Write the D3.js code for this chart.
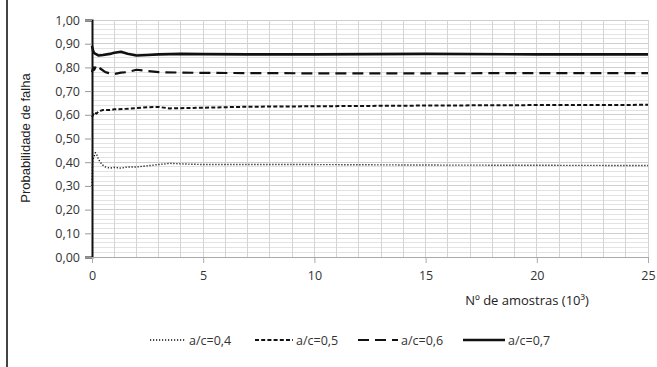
<!DOCTYPE html>
<html><head><meta charset="utf-8">
<script src="https://cdn.jsdelivr.net/npm/d3@7"></script>
<style>body{margin:0;background:#fff}svg{display:block}</style>
</head><body>
<svg id="c" width="657" height="367"></svg>
<script>
const seriesNames = ["a/c=0,4","a/c=0,5","a/c=0,6","a/c=0,7"];
const xs04 = [0,0.03,0.08,0.15,0.22,0.3,0.45,0.6,0.8,1,1.3,1.6,2,2.5,3,3.5,4,5,7,10,15,20,25];
const ys04 = [0.30,0.41,0.42,0.44,0.43,0.41,0.39,0.38,0.375,0.378,0.375,0.38,0.38,0.385,0.39,0.395,0.393,0.39,0.39,0.39,0.388,0.387,0.386];
const xs05 = [0,0.05,0.1,0.2,0.3,0.5,0.8,1,1.5,2,2.5,3,3.5,4,5,7,10,15,20,25];
const ys05 = [0.59,0.60,0.61,0.605,0.615,0.62,0.62,0.623,0.625,0.628,0.632,0.633,0.627,0.628,0.63,0.634,0.636,0.639,0.641,0.642];
const xs06 = [0,0.05,0.1,0.2,0.3,0.45,0.6,0.8,1,1.3,1.6,2,2.5,3,4,5,7,10,15,20,25];
const ys06 = [0.78,0.80,0.79,0.81,0.80,0.79,0.78,0.775,0.772,0.778,0.78,0.79,0.785,0.78,0.778,0.777,0.776,0.775,0.775,0.776,0.776];
const xs07 = [0,0.05,0.1,0.2,0.3,0.5,0.8,1,1.3,1.6,2,2.5,3,4,5,7,10,15,20,25];
const ys07 = [0.89,0.87,0.86,0.855,0.85,0.852,0.857,0.862,0.866,0.858,0.85,0.852,0.855,0.857,0.856,0.855,0.855,0.857,0.855,0.855];
const yTicks = [0,0.1,0.2,0.3,0.4,0.5,0.6,0.7,0.8,0.9,1.0];
const xTicks = [0,5,10,15,20,25];
const yTitle = "Probabilidade de falha";
const xTitle = "Nº de amostras (10³)";

const styles = [
  {w:1.4, dash:"1.2,1.8"},
  {w:2, dash:"4,2.2"},
  {w:2.2, dash:"11,6"},
  {w:2.6, dash:null}
];
const data = [[xs04,ys04],[xs05,ys05],[xs06,ys06],[xs07,ys07]];

const svg = d3.select("#c");
svg.append("line").attr("x1",7).attr("x2",7).attr("y1",0).attr("y2",367).attr("stroke","#444").attr("stroke-width",2);

const x = d3.scaleLinear().domain([0,25]).range([92,648]);
const y = d3.scaleLinear().domain([0,1]).range([257,20]);

const g = svg.append("g");
g.selectAll("line.hm").data(d3.range(0,1.0001,0.02)).join("line")
  .attr("x1",x(0)).attr("x2",x(25)).attr("y1",d=>y(d)).attr("y2",d=>y(d))
  .attr("stroke","#e3e3e3").attr("stroke-width",1).attr("shape-rendering","crispEdges");
g.selectAll("line.hM").data(yTicks).join("line")
  .attr("x1",x(0)).attr("x2",x(25)).attr("y1",d=>y(d)).attr("y2",d=>y(d))
  .attr("stroke","#cfcfcf").attr("stroke-width",1).attr("shape-rendering","crispEdges");
g.selectAll("line.v").data(d3.range(1,26,1)).join("line")
  .attr("x1",d=>x(d)).attr("x2",d=>x(d)).attr("y1",y(1)).attr("y2",y(0))
  .attr("stroke","#d4d4d4").attr("stroke-width",1).attr("shape-rendering","crispEdges");

const fmt = d => d3.format(".2f")(d).replace(".",",");
const yAxis = svg.append("g").attr("transform",`translate(${x(0)},0)`)
  .call(d3.axisLeft(y).tickValues(yTicks).tickFormat(fmt).tickSize(7).tickPadding(5));
yAxis.select(".domain").attr("stroke","#111").attr("stroke-width",2);
yAxis.selectAll(".tick line").attr("stroke","#999");
yAxis.selectAll("text").attr("font-family","Open Sans, sans-serif").attr("font-size",12.5).attr("fill","#333");

const xAxis = svg.append("g").attr("transform",`translate(0,${y(0)})`)
  .call(d3.axisBottom(x).tickValues(xTicks).tickSize(6).tickPadding(8));
xAxis.select(".domain").attr("stroke","#aaa").attr("stroke-width",1);
xAxis.selectAll(".tick line").attr("stroke","#aaa");
xAxis.selectAll("text").attr("font-family","Open Sans, sans-serif").attr("font-size",12.5).attr("fill","#333");

const line = d3.line().x(d=>x(d[0])).y(d=>y(d[1]));
data.forEach(([xa,ya],i)=>{
  const pts = xa.map((v,j)=>[v,ya[j]]);
  const p = svg.append("path").datum(pts).attr("d",line)
    .attr("fill","none").attr("stroke","#111").attr("stroke-width",styles[i].w)
    .attr("stroke-linejoin","round");
  if(styles[i].dash) p.attr("stroke-dasharray",styles[i].dash);
});

svg.append("text").attr("transform","translate(30,138) rotate(-90)")
  .attr("text-anchor","middle").attr("font-family","Liberation Sans, Arial, sans-serif")
  .attr("font-size",13).attr("fill","#222").text(yTitle);
svg.append("text").attr("x",527).attr("y",305)
  .attr("text-anchor","middle").attr("font-family","Open Sans, sans-serif")
  .attr("font-size",13).attr("fill","#222").text(xTitle);

const legX = [150,255,358,463];
const legLen = [36,38,40,42];
seriesNames.forEach((n,i)=>{
  const l = svg.append("line").attr("x1",legX[i]).attr("x2",legX[i]+legLen[i])
    .attr("y1",340).attr("y2",340).attr("stroke","#111").attr("stroke-width",styles[i].w);
  if(styles[i].dash) l.attr("stroke-dasharray",styles[i].dash);
  svg.append("text").attr("x",legX[i]+legLen[i]+3).attr("y",344.5)
    .attr("font-family","Open Sans, sans-serif").attr("font-size",12.5).attr("fill","#333").text(n);
});
</script>
</body></html>
